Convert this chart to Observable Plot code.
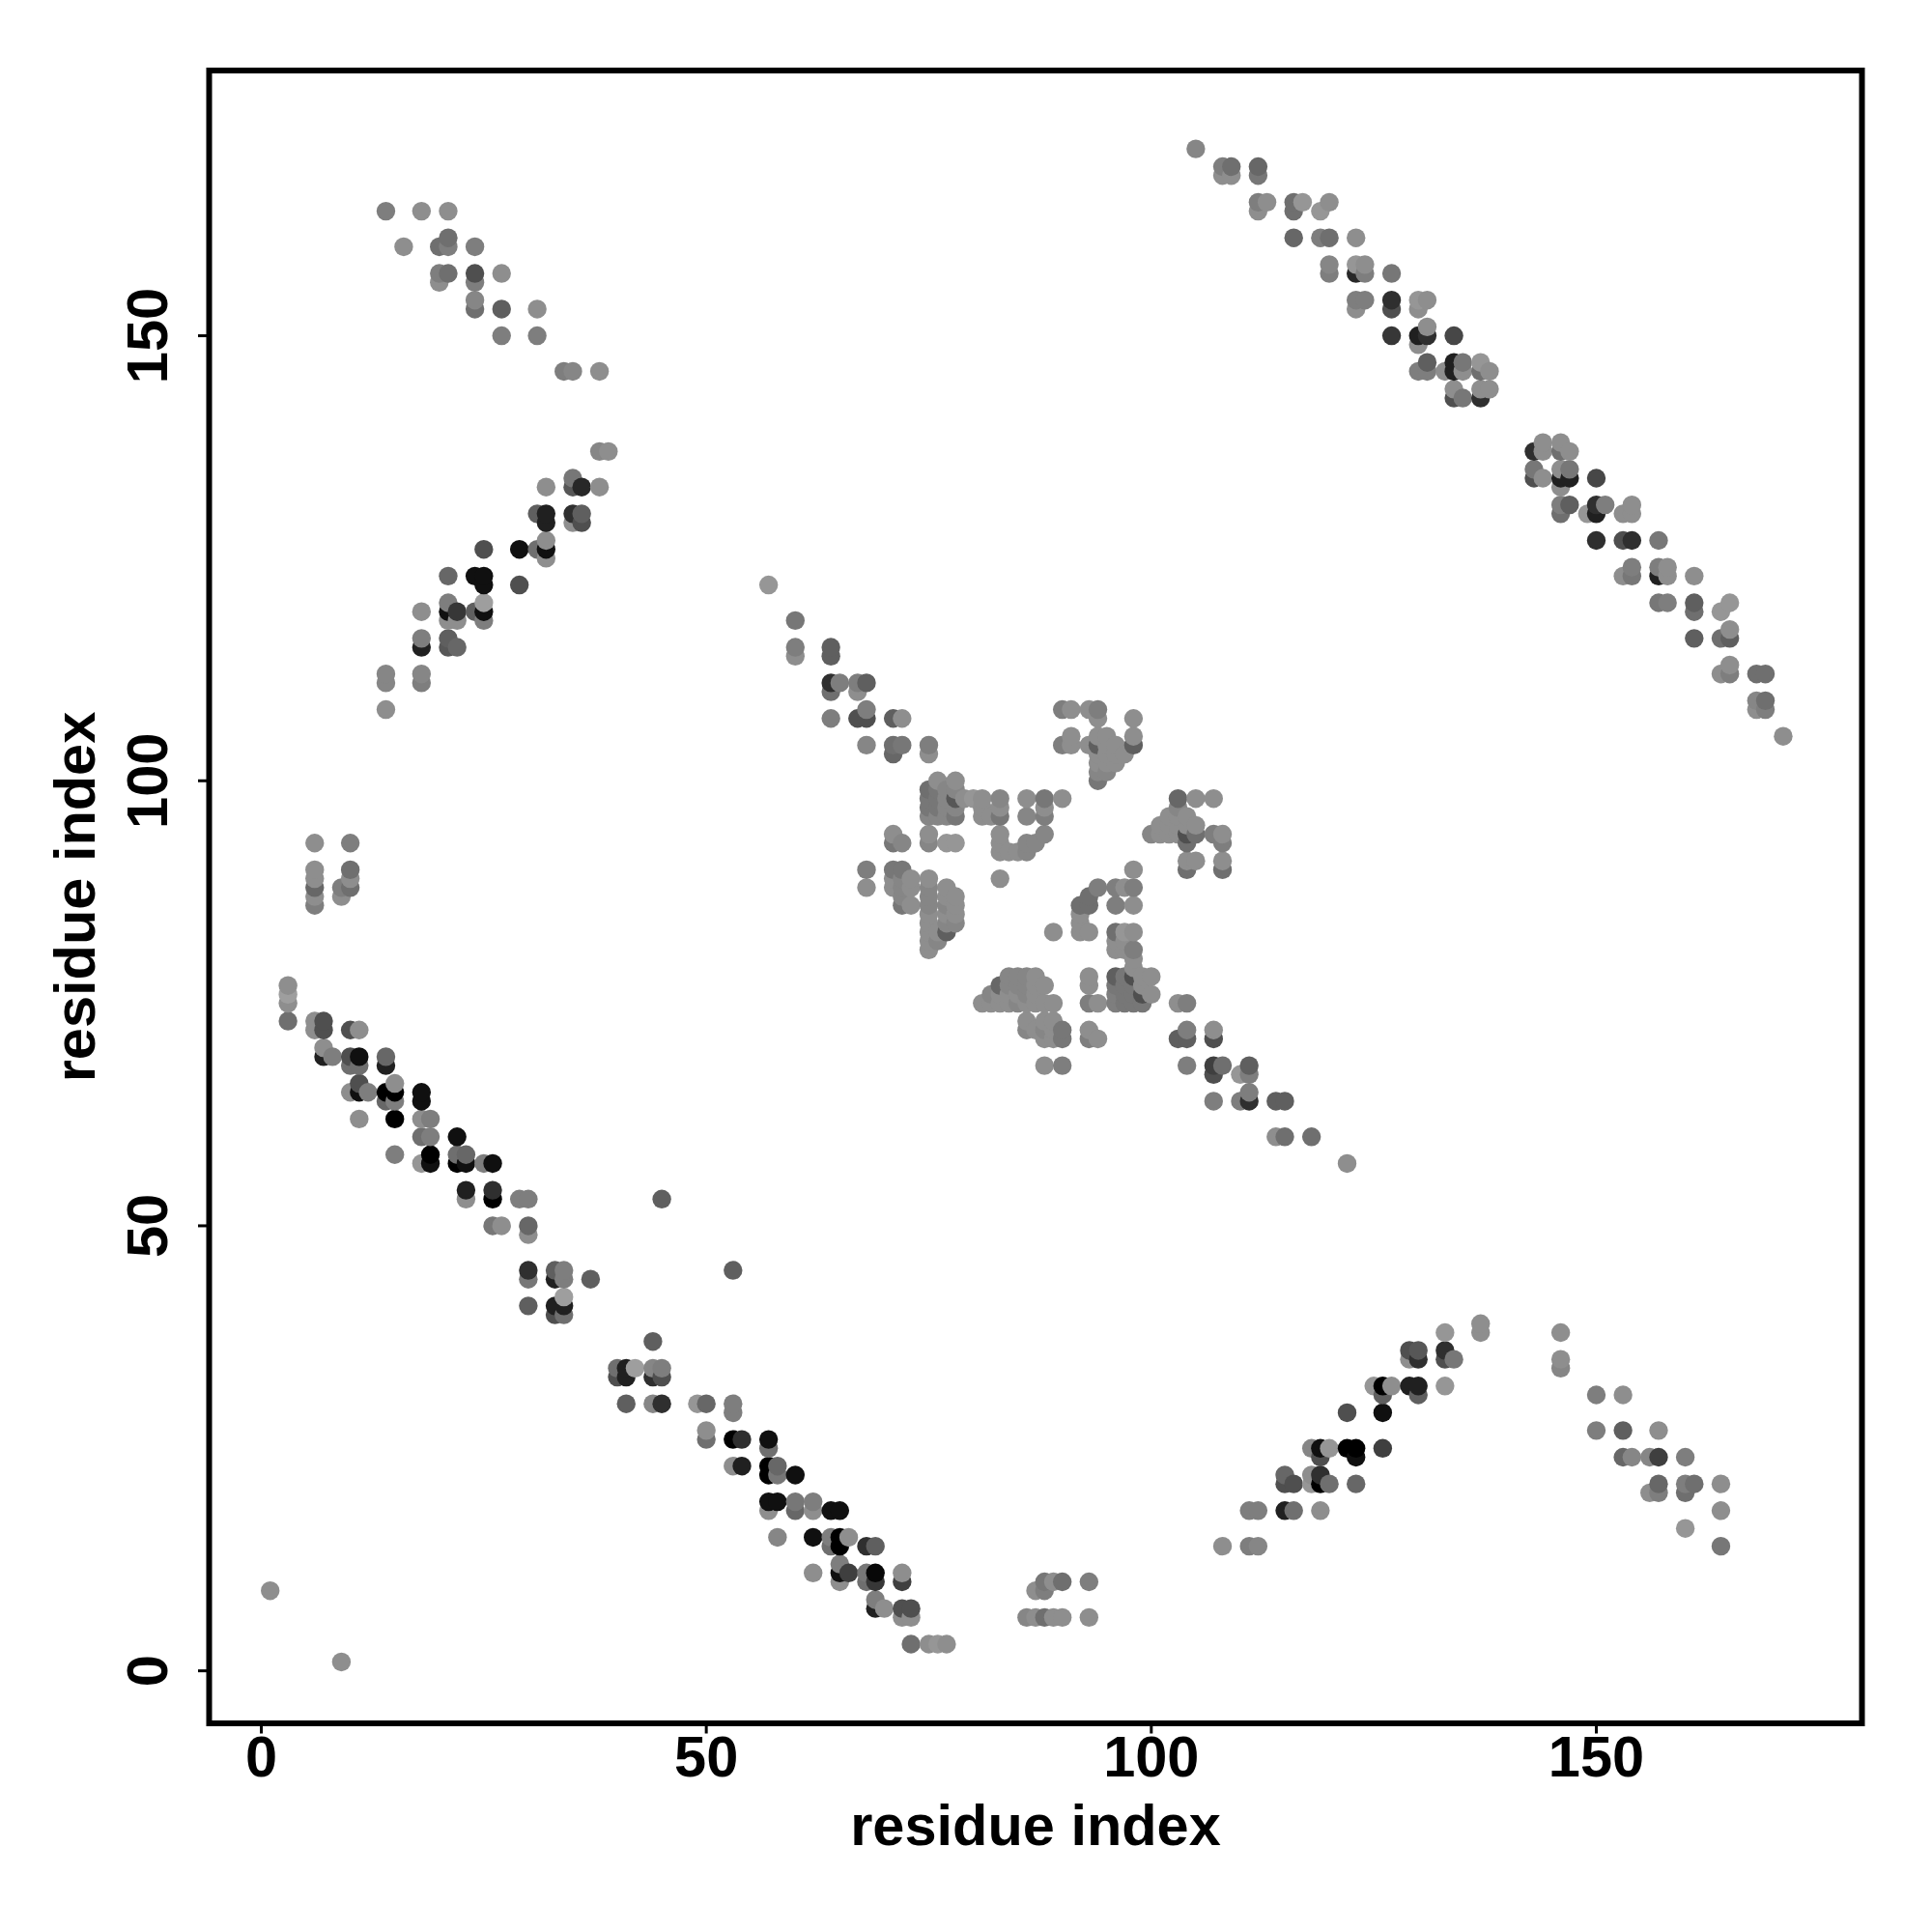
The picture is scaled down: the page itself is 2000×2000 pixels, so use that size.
<!DOCTYPE html>
<html>
<head>
<meta charset="utf-8">
<script src="https://cdn.jsdelivr.net/npm/d3@7"></script>
<script src="https://cdn.jsdelivr.net/npm/@observablehq/plot@0.6"></script>
<style>html,body{margin:0;padding:0;background:#fff}svg{display:block}</style>
</head>
<body>
<div id="chart"></div>
<script>
// Each entry: [residue i, residue j, contact strength 0..10]
const corners = [[1,9,1],[9,1,1]];
const upperLeftFar = [[14,164,2],[18,164,1],[21,164,1],[21,161,3],[16,160,1],[20,160,3],[21,160,2],[24,160,2],[20,157,2],[21,157,3],[24,157,5],[27,157,1],[20,156,1],[24,156,2],[24,154,1.5],[24,153,3],[27,153,4],[31,153,1],[27,150,2],[31,150,2],[34,146,2],[35,146,1.5],[38,146,1]];
const upperLeftRise = [[38,137,1.5],[39,137,1],[35,134,2.5],[32,133,1],[35,133,4.5],[36,133,7.5],[38,133,1],[31,130,4],[32,130,8],[35,130,7],[36,130,4],[32,129,8],[35,129,1],[36,129,5],[32,127,1],[25,126,5],[29,126,9],[31,126,3],[32,126,9],[32,125,1],[21,123,3.5],[24,123,9],[25,123,9],[25,122,9],[29,122,5],[21,120,2],[25,120,0],[18,119,1],[21,119,9],[22,119,6.5],[24,119,4],[25,119,9],[21,118,1],[22,118,1],[25,118,2],[18,116,2],[21,116,4],[18,115,8],[21,115,4.5],[22,115,3.5],[14,112,1.5],[18,112,1.5],[14,111,1.5],[18,111,2],[14,108,1]];
const topRightFall = [[105,171,1.5],[108,169,2],[109,169,3],[112,169,3.5],[108,168,1],[109,168,1],[112,168,2.5],[112,165,2],[113,165,1],[116,165,3],[117,165,0.5],[120,165,1],[112,164,1],[116,164,3],[119,164,0.5],[116,161,3.5],[119,161,2],[120,161,3],[123,161,1],[120,158,1.5],[123,158,0.5],[124,158,1],[120,157,2],[123,157,7.5],[124,157,2],[127,157,2.5],[123,154,2],[124,154,2],[127,154,7],[130,154,0.5],[131,154,1],[123,153,1],[127,153,5],[130,153,1],[131,151,1],[127,150,6.5],[130,150,8],[131,150,7],[134,150,5.5],[130,149,1],[131,147,4],[134,147,8],[135,147,2.5],[137,147,0.5],[130,146,2],[131,146,2],[133,146,1],[134,146,8],[135,146,1],[137,146,3],[138,146,1],[134,144,1],[137,144,1],[138,144,1],[134,143,5],[135,143,2.5],[137,143,7]];
const rightFall = [[144,138,1],[146,138,1],[143,137,7],[144,137,1],[146,137,3],[147,137,1],[143,135,2.5],[146,135,1],[147,135,2.5],[143,134,5],[144,134,1],[146,134,8],[147,134,8],[150,134,5.5],[146,133,1],[146,131,2],[147,131,4],[150,131,7],[151,131,2],[154,131,1],[146,130,3],[149,130,0.5],[150,130,8],[153,130,1],[154,130,1],[150,127,7],[153,127,5],[154,127,7],[157,127,2.5],[154,124,2],[157,124,2],[158,124,1],[153,123,1],[154,123,2.5],[157,123,8],[158,123,1],[161,123,1],[157,120,2.5],[158,120,2],[161,120,4],[165,120,0.5],[161,119,3],[164,119,0.5],[165,117,1],[161,116,4],[164,116,3],[165,116,4],[165,113,1],[164,112,1],[165,112,2],[168,112,3],[169,112,3],[168,109,1.5],[169,109,3],[168,108,1],[169,108,2],[171,105,1]];
const midFall = [[57,122,0.5],[60,118,2.5],[60,115,2],[64,115,4],[60,114,1],[64,114,4],[64,111,7],[65,111,2],[67,111,2],[68,111,4],[64,110,3],[67,110,1],[68,108,2],[64,107,2],[67,107,5],[68,107,5],[71,107,4],[72,107,1],[68,104,1.5],[71,104,3],[72,104,2.5],[75,104,2],[71,103,3.5],[75,103,1]];
const centreLeftTop = [[76,100,1],[78,100,1],[75,99,3],[76,99,2.5],[77,99,1.5],[78,99,1.5],[75,98,2.5],[76,98,2.5],[77,98,1.5],[78,98,4.5],[79,98,1],[80,98,0.5],[81,98,1],[83,98,1.5],[86,98,1],[88,98,2.5],[90,98,1],[75,97,2.5],[76,97,2.5],[77,97,1.5],[78,97,1.5],[81,97,1],[83,97,1],[88,97,1],[75,96,1.5],[76,96,1.5],[77,96,1.5],[78,96,2.5],[81,96,1],[82,96,1],[83,96,2.5],[86,96,1.5],[88,96,2],[71,94,1],[75,94,1],[83,94,1],[88,94,1.5],[71,93,2.5],[72,93,1.5],[75,93,1.5],[77,93,0.5],[78,93,0.5],[83,93,1],[86,93,1.5],[87,93,1.5],[83,92,1],[84,92,1],[85,92,1],[86,92,1.5]];
const centreLeftLow = [[68,90,2],[71,90,2.5],[72,90,2.5],[71,89,1],[72,89,1.5],[73,89,1],[75,89,1],[83,89,1],[68,88,1],[71,88,1],[72,88,1.5],[73,88,1],[75,88,1.5],[77,88,1],[72,87,1.5],[75,87,1.5],[77,87,1],[78,87,1],[72,86,2.5],[73,86,1],[75,86,1.5],[77,86,1.5],[78,86,1],[75,85,1],[77,85,1],[78,85,1],[75,84,1],[77,84,1.5],[78,84,1.5],[75,83,1],[76,83,1],[77,83,4],[75,82,1],[76,82,1.5],[75,81,1]];
const centreRightTop = [[90,108,2],[91,108,1],[93,108,1],[94,108,2],[94,107,1],[98,107,1],[91,105,1],[94,105,1],[95,105,1],[98,105,1],[90,104,2],[91,104,1],[93,104,1],[94,104,4],[95,104,1],[96,104,1],[98,104,4],[94,103,1],[95,103,1],[96,103,1],[97,103,1],[94,102,1],[95,102,1],[96,102,1],[94,101,1.5],[95,101,1.5],[94,100,2.5]];
const centreRightMid = [[103,98,3.5],[105,98,1],[107,98,1],[103,97,1.5],[102,96,1],[103,96,1],[104,96,1],[101,95,1],[102,95,1],[103,95,1],[104,95,1],[105,95,1],[100,94,1.5],[101,94,1],[102,94,1],[103,94,1],[104,94,5],[105,94,3],[107,94,2],[108,94,1],[104,93,3],[108,93,2],[104,91,1],[105,91,1],[108,91,1],[104,90,3],[108,90,3]];
const centreLower = [[98,90,1],[94,88,2],[96,88,2],[97,88,1],[98,88,2],[93,87,3],[92,86,3],[93,86,3],[96,86,2],[98,86,1],[92,85,1],[92,84,1],[89,83,1],[92,83,1],[93,83,1],[96,83,3],[97,83,0.5],[98,83,1],[96,82,1],[97,82,1],[96,81,1],[97,81,1],[98,81,2],[98,80,1],[98,79,1],[84,78,1.5],[85,78,1.5],[86,78,1.5],[87,78,1],[93,78,1],[96,78,4],[97,78,2.5],[98,78,5],[99,78,1],[100,78,1],[83,77,3.5],[84,77,1.5],[85,77,1.5],[86,77,1.5],[87,77,1],[88,77,1],[93,77,1],[96,77,2.5],[97,77,2.5],[98,77,2.5],[99,77,1],[82,76,1.5],[83,76,1],[84,76,1],[85,76,1],[86,76,1.5],[87,76,1],[96,76,2],[97,76,2.5],[98,76,2.5],[99,76,5],[100,76,1],[81,75,1],[82,75,1],[83,75,1],[84,75,1],[85,75,1.5],[86,75,1],[87,75,1],[88,75,1],[89,75,1],[93,75,2],[94,75,1],[96,75,2],[97,75,2.5],[98,75,2.5],[99,75,2.5],[103,75,1],[104,75,2],[86,73,1],[88,73,1],[89,73,1],[86,72,1.5],[87,72,1],[88,72,1.5],[89,72,1],[90,72,2.5],[93,72,1],[104,72,2],[107,72,1],[88,71,1],[89,71,1],[90,71,2.5],[93,71,2],[94,71,1],[103,71,4],[104,71,4],[107,71,5],[88,68,1],[90,68,2],[104,68,2],[107,68,6],[108,68,3],[111,68,4],[107,67,5],[110,67,0.5],[111,67,2],[111,65,2],[107,64,2],[110,64,2],[111,64,7],[114,64,4],[115,64,4],[114,60,1],[115,60,3],[118,60,3],[122,57,1]];
const leftCluster = [[6,93,1],[10,93,2],[6,90,1],[10,90,3],[6,89,1],[10,89,1],[6,88,3.5],[9,88,2],[10,88,3],[6,87,1],[9,87,1],[6,86,2]];
const mainFallUpper = [[3,77,1],[3,76,0],[3,75,1],[3,73,3],[6,73,1],[7,73,5],[6,72,1],[7,72,5],[10,72,5],[11,72,1],[7,70,1],[7,69,8],[8,69,2],[10,69,5],[11,69,9],[14,69,3.5],[10,68,3],[11,68,3],[14,68,8],[11,66,5],[15,66,1],[10,65,1],[11,65,9],[12,65,2],[14,65,10],[15,65,10],[18,65,9],[14,64,3.5],[15,64,2],[18,64,9],[11,62,1],[15,62,10],[18,62,1],[19,62,2],[18,60,3],[19,60,2],[22,60,9],[15,58,2],[19,58,10],[22,58,3],[23,58,3.5],[18,57,0.5],[19,57,9],[22,57,10],[23,57,9],[25,57,2],[26,57,9],[23,54,8],[26,54,7],[23,53,1],[26,53,10],[29,53,2],[30,53,2],[45,53,4],[26,50,2.5],[27,50,1],[30,50,3.5],[30,49,1]];
const mainFallMiddle = [[30,45,7],[33,45,4],[34,45,2],[53,45,4],[30,44,2.5],[33,44,8],[34,44,2],[37,44,4],[34,42,0],[30,41,4],[33,41,8],[34,41,8],[33,40,5],[34,40,3],[44,37,4],[40,34,3],[41,34,8],[42,34,0],[44,34,1.5],[45,34,2],[40,33,5],[41,33,8],[44,33,7],[45,33,5],[41,30,4],[44,30,1.5],[45,30,7],[49,30,0.5],[50,30,3.5],[53,30,2],[53,29,2],[50,27,1]];
const mainFallLower = [[50,26,3],[53,26,10],[54,26,7],[57,26,9],[57,25,3],[53,23,1],[54,23,8],[57,23,10],[58,23,3.5],[57,22,10],[58,22,2.5],[60,22,9],[57,19,9],[58,19,9],[60,19,2.5],[62,19,2],[57,18,1],[60,18,3.5],[62,18,1],[64,18,9],[65,18,9],[58,15,1.5],[62,15,9],[64,15,2],[65,15,10],[66,15,1],[64,14,3],[65,14,10],[68,14,7],[69,14,4],[65,12,2],[62,11,1],[65,11,9],[66,11,6],[68,11,2.5],[69,11,9.5],[72,11,1],[65,10,1],[68,10,3],[69,10,6.5],[72,10,6],[69,8,2],[69,7,8],[70,7,1],[72,7,5],[73,7,5],[72,6,1],[73,6,1],[73,3,3],[75,3,1],[76,3,0.5],[77,3,1]];
const bottomMid = [[88,10,2.5],[89,10,1],[90,10,3],[93,10,2],[87,9,1],[88,9,2],[86,6,1.5],[87,6,1],[88,6,3],[89,6,1],[90,6,1],[93,6,1]];
const bottomRise = [[108,14,1],[111,14,2],[112,14,1.5],[111,18,2],[112,18,2],[115,18,8],[116,18,3],[119,18,1],[115,22,3.5],[118,22,1],[119,22,7],[115,21,5],[116,21,5],[118,21,0.5],[119,21,10],[120,21,3],[123,21,3.5],[119,24,5],[123,24,9],[118,25,1.5],[119,25,9],[120,25,0.5],[122,25,10],[123,25,10],[126,25,6],[122,29,5],[126,29,9],[126,31,4],[130,31,4],[125,32,0.5],[126,32,10],[127,32,1],[129,32,8],[130,32,8],[133,32,0.5],[129,35,1],[130,35,7],[133,35,5],[134,35,2.5],[129,36,5],[130,36,4.5],[133,36,7],[133,38,0.5],[137,38,1],[137,39,1]];
const bottomRightFall = [[146,38,1],[146,35,1],[146,34,1.5],[150,31,2],[153,31,1],[150,27,2],[153,27,4],[157,27,1],[153,24,3.5],[154,24,1.5],[156,24,1.5],[157,24,6],[160,24,2],[157,21,3.5],[160,21,2],[161,21,3],[164,21,1],[156,20,1],[157,20,2],[160,20,3],[164,18,1],[160,16,0.5],[164,14,2.5]];

const xTicks = [0, 50, 100, 150];
const yTicks = [0, 50, 100, 150];
const axisName = "residue index";

const rows = d3.sort(
  [corners, upperLeftFar, upperLeftRise, topRightFall, rightFall, midFall, centreLeftTop, centreLeftLow, centreRightTop, centreRightMid, centreLower, leftCluster, mainFallUpper, mainFallMiddle, mainFallLower, bottomMid, bottomRise, bottomRightFall]
    .flat().map(([i, j, s]) => ({i, j, s})),
  d => d.i, d => d.j
);

const font = {fontFamily: "'Liberation Sans', Arial, sans-serif", fontWeight: "bold"};

const chart = Plot.plot({
  width: 2000, height: 2000,
  marginLeft: 216, marginRight: 73, marginTop: 72.5, marginBottom: 216.5,
  style: {background: "#fff", color: "#000", ...font},
  x: {domain: [-5.86, 179.85]},
  y: {domain: [-5.9, 179.8]},
  color: {type: "linear", domain: [0, 10], range: ["#9e9e9e", "#000000"]},
  marks: [
    Plot.dot(rows, {x: "i", y: "j", r: 9.7, fill: "s", stroke: "none"}),
    Plot.frame({stroke: "#000", strokeWidth: 6}),
    Plot.axisX({ticks: xTicks, tickSize: 11, tickPadding: 2, strokeWidth: 3, fontSize: 59.5, label: axisName, labelAnchor: "center", labelArrow: "none", labelOffset: 126, tickFormat: d => String(d), ...font}),
    Plot.axisY({ticks: yTicks, tickSize: 11, tickPadding: 33, strokeWidth: 3, fontSize: 59.5, tickRotate: -90, label: axisName, labelAnchor: "center", labelArrow: "none", labelOffset: 161, tickFormat: d => String(d), ...font})
  ]
});
document.getElementById("chart").appendChild(chart);
</script>
</body>
</html>
